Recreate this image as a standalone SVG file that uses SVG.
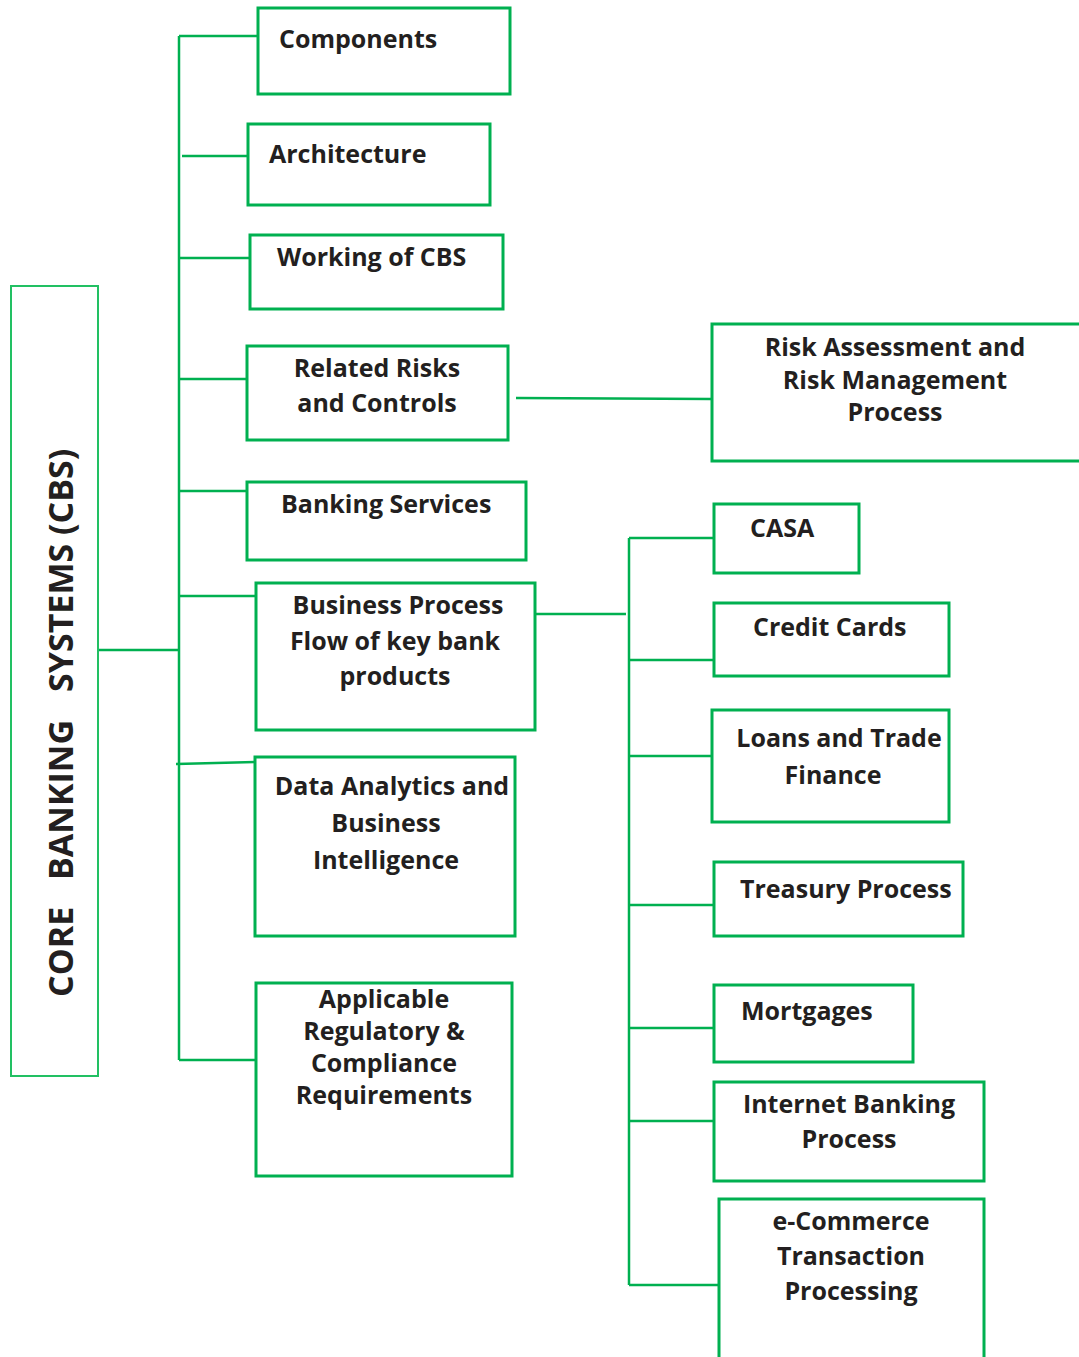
<svg xmlns="http://www.w3.org/2000/svg" width="1079" height="1357" viewBox="0 0 1079 1357">
  <style>
    .box { fill: #ffffff; stroke: #00b050; stroke-width: 3; }
    .root { fill: #ffffff; stroke: #22c063; stroke-width: 2; }
    .wire { fill: none; stroke: #00b050; stroke-width: 2.5; }
    .lbl { font-family: "Open Sans", "Noto Sans", "Liberation Sans", sans-serif; font-weight: 700; font-size: 25px; fill: #231f20; }
    .mid { text-anchor: middle; }
    .title { font-family: "Open Sans", "Noto Sans", "Liberation Sans", sans-serif; font-weight: 700; font-size: 34px; fill: #231f20; }
  </style>
  <rect width="1079" height="1357" fill="#ffffff"/>

  <!-- connectors -->
  <g id="connectors">
    <line class="wire" x1="98" y1="650" x2="179" y2="650"/>
    <line class="wire" x1="179" y1="36" x2="179" y2="1060"/>
    <line class="wire" x1="179" y1="36" x2="258" y2="36"/>
    <line class="wire" x1="182" y1="156" x2="248" y2="156"/>
    <line class="wire" x1="179" y1="258" x2="250" y2="258"/>
    <line class="wire" x1="179" y1="379" x2="247" y2="379"/>
    <line class="wire" x1="179" y1="491" x2="247" y2="491"/>
    <line class="wire" x1="179" y1="596" x2="260" y2="596"/>
    <line class="wire" x1="176" y1="764" x2="255" y2="762"/>
    <line class="wire" x1="179" y1="1060" x2="256" y2="1060"/>
    <line class="wire" x1="516" y1="398" x2="712" y2="399"/>
    <line class="wire" x1="528" y1="614" x2="626" y2="614"/>
    <line class="wire" x1="629" y1="538" x2="629" y2="1285"/>
    <line class="wire" x1="629" y1="538" x2="714" y2="538"/>
    <line class="wire" x1="629" y1="660" x2="714" y2="660"/>
    <line class="wire" x1="629" y1="756" x2="716" y2="756"/>
    <line class="wire" x1="629" y1="905" x2="714" y2="905"/>
    <line class="wire" x1="629" y1="1028" x2="714" y2="1028"/>
    <line class="wire" x1="629" y1="1121" x2="714" y2="1121"/>
    <line class="wire" x1="629" y1="1285" x2="719" y2="1285"/>
  </g>

  <!-- root -->
  <g id="core-banking">
    <rect class="root" x="11" y="286" width="87" height="790"/>
    <g transform="translate(73,997) rotate(-90)">
      <text class="title" x="0" y="0">CORE</text>
      <text class="title" x="117" y="0">BANKING</text>
      <text class="title" x="305" y="0">SYSTEMS (CBS)</text>
    </g>
  </g>

  <!-- first-level topics -->
  <g id="components">
    <rect class="box" x="258" y="8" width="252" height="86"/>
    <text class="lbl" x="279" y="48">Components</text>
  </g>
  <g id="architecture">
    <rect class="box" x="248" y="124" width="242" height="81"/>
    <text class="lbl" x="269" y="163">Architecture</text>
  </g>
  <g id="working-of-cbs">
    <rect class="box" x="250" y="235" width="253" height="74"/>
    <text class="lbl" x="277" y="266">Working of CBS</text>
  </g>
  <g id="related-risks">
    <rect class="box" x="247" y="346" width="261" height="94"/>
    <text class="lbl mid" x="377" y="377">Related Risks</text>
    <text class="lbl mid" x="377" y="412">and Controls</text>
  </g>
  <g id="risk-assessment">
    <rect class="box" x="712" y="324" width="380" height="137"/>
    <text class="lbl mid" x="895" y="356">Risk Assessment and</text>
    <text class="lbl mid" x="895" y="389">Risk Management</text>
    <text class="lbl mid" x="895" y="421">Process</text>
  </g>
  <g id="banking-services">
    <rect class="box" x="247" y="482" width="279" height="78"/>
    <text class="lbl" x="281" y="513">Banking Services</text>
  </g>
  <g id="business-process">
    <rect class="box" x="256" y="583" width="279" height="147"/>
    <text class="lbl mid" x="398" y="614">Business Process</text>
    <text class="lbl mid" x="395" y="650">Flow of key bank</text>
    <text class="lbl mid" x="395" y="685">products</text>
  </g>
  <g id="data-analytics">
    <rect class="box" x="255" y="757" width="260" height="179"/>
    <text class="lbl mid" x="392" y="795">Data Analytics and</text>
    <text class="lbl mid" x="386" y="832">Business</text>
    <text class="lbl mid" x="386" y="869">Intelligence</text>
  </g>
  <g id="regulatory">
    <rect class="box" x="256" y="983" width="256" height="193"/>
    <text class="lbl mid" x="384" y="1008">Applicable</text>
    <text class="lbl mid" x="384" y="1040">Regulatory &amp;</text>
    <text class="lbl mid" x="384" y="1072">Compliance</text>
    <text class="lbl mid" x="384" y="1104">Requirements</text>
  </g>

  <!-- key bank products -->
  <g id="casa">
    <rect class="box" x="714" y="504" width="145" height="69"/>
    <text class="lbl" x="750" y="537">CASA</text>
  </g>
  <g id="credit-cards">
    <rect class="box" x="714" y="603" width="235" height="73"/>
    <text class="lbl" x="753" y="636">Credit Cards</text>
  </g>
  <g id="loans">
    <rect class="box" x="712" y="710" width="237" height="112"/>
    <text class="lbl mid" x="839" y="747">Loans and Trade</text>
    <text class="lbl mid" x="833" y="784">Finance</text>
  </g>
  <g id="treasury">
    <rect class="box" x="714" y="862" width="249" height="74"/>
    <text class="lbl" x="740" y="898">Treasury Process</text>
  </g>
  <g id="mortgages">
    <rect class="box" x="714" y="985" width="199" height="77"/>
    <text class="lbl" x="741" y="1020">Mortgages</text>
  </g>
  <g id="internet-banking">
    <rect class="box" x="714" y="1082" width="270" height="99"/>
    <text class="lbl mid" x="849" y="1113">Internet Banking</text>
    <text class="lbl mid" x="849" y="1148">Process</text>
  </g>
  <g id="e-commerce">
    <rect class="box" x="719" y="1199" width="265" height="180"/>
    <text class="lbl mid" x="851" y="1230">e-Commerce</text>
    <text class="lbl mid" x="851" y="1265">Transaction</text>
    <text class="lbl mid" x="851" y="1300">Processing</text>
  </g>
</svg>
